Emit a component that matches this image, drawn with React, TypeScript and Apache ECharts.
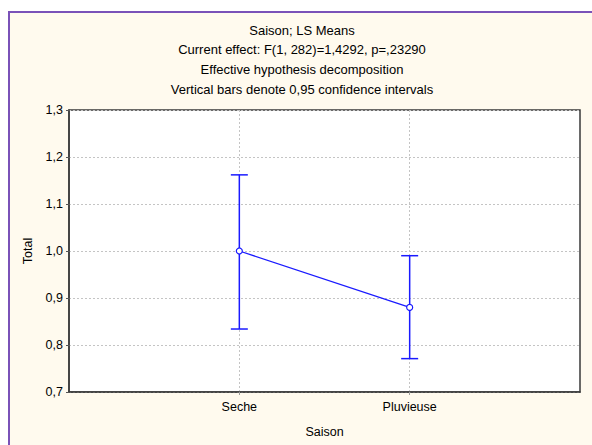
import React, { useEffect, useRef } from "react";
import * as echarts from "echarts";

// LS means of Total by season, with 0.95 confidence limits
const categories = ["Seche", "Pluvieuse"];
const means = [1.0, 0.88];
const lower = [0.834, 0.771];
const upper = [1.162, 0.99];
const yTicks = [0.7, 0.8, 0.9, 1.0, 1.1, 1.2, 1.3];
const titleLines = [
  "Saison; LS Means",
  "Current effect: F(1, 282)=1,4292, p=,23290",
  "Effective hypothesis decomposition",
  "Vertical bars denote 0,95 confidence intervals",
];

const FONT = '"Liberation Sans", Arial, sans-serif';
const FS = 12.5;
const TITLE_FS = 13;
const BLUE = "#1a1aff";

export default function App() {
  const ref = useRef<HTMLDivElement>(null);

  useEffect(() => {
    if (!ref.current) return;
    const chart = echarts.init(ref.current, undefined, { renderer: "svg" });
    const xs = categories.map((_, i) => i + 1);

    const option: any = {
      animation: false,
      backgroundColor: "#ffffff",
      textStyle: { fontFamily: FONT },
      graphic: [
        {
          type: "rect",
          z: -10,
          silent: true,
          shape: { x: 9, y: 12, width: 600, height: 450 },
          style: { fill: "#fffaee" },
        },
        {
          type: "polyline",
          z: -9,
          silent: true,
          shape: { points: [[9, 460], [9, 12], [600, 12]] },
          style: { stroke: "#7a52b8", lineWidth: 2, fill: "none" },
        },
        ...titleLines.map((t, i) => ({
          type: "text",
          x: 302,
          y: 30 + i * 19.8,
          silent: true,
          style: {
            text: t,
            fill: "#000",
            font: `${TITLE_FS}px ${FONT}`,
            align: "center",
            verticalAlign: "middle",
          },
        })),
      ],
      grid: {
        left: 69,
        top: 110,
        right: 12,
        bottom: 53,
        outerBoundsMode: "none",
        containLabel: false,
        show: true,
        backgroundColor: "#ffffff",
        borderColor: "#3a3a3a",
        borderWidth: 1.5,
      },
      xAxis: {
        type: "value",
        min: 0,
        max: categories.length + 1,
        interval: 1,
        name: "Saison",
        nameLocation: "middle",
        nameGap: 33,
        nameTextStyle: { fontSize: FS, color: "#000", fontFamily: FONT },
        axisLine: { show: true, lineStyle: { color: "#3a3a3a", width: 1.5 } },
        axisTick: {
          show: true,
          length: 3,
          customValues: xs,
          lineStyle: { color: "#999" },
        },
        axisLabel: {
          customValues: xs,
          margin: 8,
          fontSize: FS,
          color: "#000",
          fontFamily: FONT,
          formatter: (v: number) => categories[Math.round(v) - 1] ?? "",
        },
        splitLine: {
          show: true,
          lineStyle: { color: "#c4c4c4", type: [2, 2], width: 1 },
        },
      },
      yAxis: {
        type: "value",
        min: yTicks[0],
        max: yTicks[yTicks.length - 1],
        interval: 0.1,
        name: "Total",
        nameLocation: "middle",
        nameRotate: 90,
        nameGap: 33,
        nameTextStyle: { fontSize: FS, color: "#000", fontFamily: FONT },
        axisLine: { show: true, lineStyle: { color: "#3a3a3a", width: 1.5 } },
        axisTick: { show: true, length: 3, lineStyle: { color: "#555" } },
        axisLabel: {
          margin: 6,
          fontSize: FS,
          color: "#000",
          fontFamily: FONT,
          formatter: (v: number) => v.toFixed(1).replace(".", ","),
        },
        splitLine: {
          show: true,
          lineStyle: { color: "#c4c4c4", type: [2, 2], width: 1 },
        },
      },
      series: [
        {
          type: "custom",
          z: 3,
          data: xs.map((x, i) => [x, lower[i], upper[i]]),
          renderItem: (params: any, api: any) => {
            const x = api.value(0);
            const lo = api.coord([x, api.value(1)]);
            const hi = api.coord([x, api.value(2)]);
            const half = 8.5;
            const style = { stroke: BLUE, lineWidth: 1.5 };
            return {
              type: "group",
              children: [
                { type: "line", shape: { x1: lo[0], y1: lo[1], x2: hi[0], y2: hi[1] }, style },
                { type: "line", shape: { x1: hi[0] - half, y1: hi[1], x2: hi[0] + half, y2: hi[1] }, style },
                { type: "line", shape: { x1: lo[0] - half, y1: lo[1], x2: lo[0] + half, y2: lo[1] }, style },
              ],
            };
          },
        },
        {
          type: "line",
          z: 4,
          data: xs.map((x, i) => [x, means[i]]),
          symbol: "circle",
          symbolSize: 6,
          showAllSymbol: true,
          lineStyle: { color: BLUE, width: 1.3 },
          itemStyle: { color: "#ffffff", borderColor: BLUE, borderWidth: 1.2 },
        },
      ],
    };

    chart.setOption(option);
    return () => chart.dispose();
  }, []);

  return (
    <div
      ref={ref}
      style={{ position: "absolute", left: 0, top: 0, width: 592, height: 445 }}
    />
  );
}
